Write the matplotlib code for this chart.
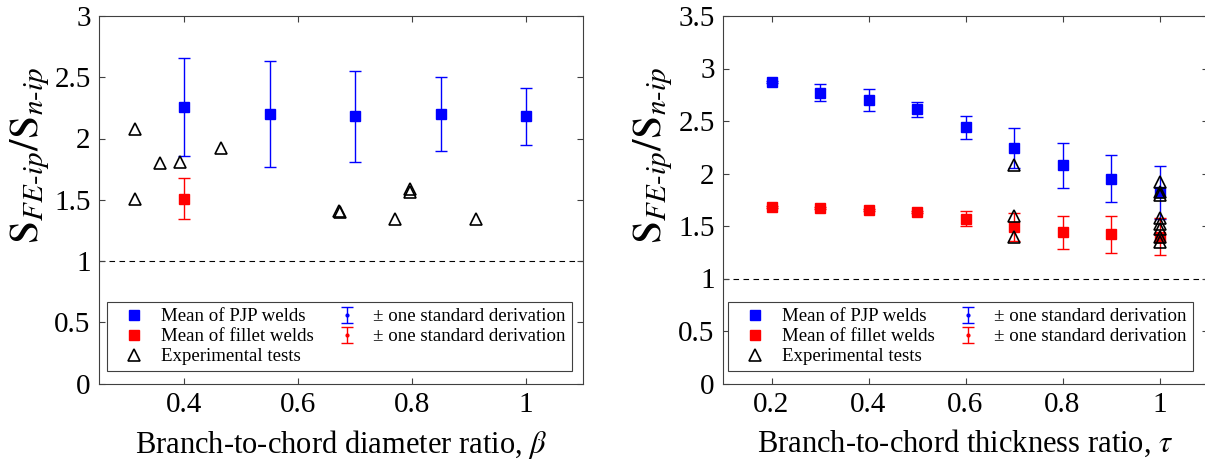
import numpy as np
import matplotlib
matplotlib.use('Agg')
import matplotlib.pyplot as plt
from matplotlib.ticker import FuncFormatter
from matplotlib.container import ErrorbarContainer
from matplotlib.legend_handler import HandlerErrorbar

plt.rcParams['font.family'] = ['Liberation Serif', 'DejaVu Serif']
plt.rcParams['mathtext.fontset'] = 'stix'

# left panel: beta
beta_mean = [0.4, 0.55, 0.7, 0.85, 1.0]
pjp_beta = [2.26, 2.20, 2.18, 2.20, 2.18]
pjp_beta_sd = [0.40, 0.43, 0.37, 0.30, 0.23]
fil_beta_x = [0.4]
fil_beta = [1.51]
fil_beta_sd = [0.166]
exp_beta_x = [0.313, 0.313, 0.358, 0.393, 0.465, 0.672, 0.674, 0.770, 0.797, 0.797, 0.912]
exp_beta_y = [2.08, 1.51, 1.80, 1.81, 1.92, 1.41, 1.40, 1.34, 1.59, 1.565, 1.34]

# right panel: tau
tau_mean = [0.2, 0.3, 0.4, 0.5, 0.6, 0.7, 0.8, 0.9, 1.0]
pjp_tau = [2.87, 2.77, 2.70, 2.61, 2.44, 2.24, 2.08, 1.95, 1.82]
pjp_tau_sd = [0.01, 0.08, 0.105, 0.073, 0.108, 0.19, 0.215, 0.222, 0.25]
fil_tau = [1.68, 1.67, 1.65, 1.63, 1.57, 1.49, 1.44, 1.42, 1.40]
fil_tau_sd = [0.01, 0.01, 0.01, 0.01, 0.073, 0.13, 0.16, 0.178, 0.18]
exp_tau_x = [0.7, 0.7, 0.7, 1.0, 1.0, 1.0, 1.0, 1.0, 1.0, 1.0, 1.0]
exp_tau_y = [2.08, 1.60, 1.40, 1.92, 1.82, 1.80, 1.58, 1.52, 1.47, 1.40, 1.35]

ylab = r'$\mathrm{S}_{FE\text{-}ip}/\mathrm{S}_{n\text{-}ip}$'
fmt = FuncFormatter(lambda v, p: '%g' % v)

fig = plt.figure(figsize=(12.05, 4.63), dpi=100)
ax1 = fig.add_axes([99/1205, 79.5/463, 484/1205, 367.5/463])
ax2 = fig.add_axes([723/1205, 79.5/463, 485/1205, 367.5/463])


def draw(ax, xm, pm, ps, xf, fm, fs, xe, ye):
    ax.axhline(1, color='k', ls=(0, (5, 4)), lw=0.8, zorder=1)
    eb = ax.errorbar(xm, pm, yerr=ps, fmt='.', color='blue', ms=4, lw=1,
                     capsize=4, capthick=1, zorder=2)
    er = ax.errorbar(xf, fm, yerr=fs, fmt='.', color='red', ms=4, lw=1,
                     capsize=4, capthick=1, zorder=2)
    pb, = ax.plot(xm, pm, 's', color='blue', ms=7, ls='none', zorder=3)
    pr, = ax.plot(xf, fm, 's', color='red', ms=7, ls='none', zorder=3)
    pe, = ax.plot(xe, ye, '^', mfc='none', mec='k', mew=1.2, ms=8, ls='none', zorder=4)
    return [pb, pr, pe, eb, er]


h1 = draw(ax1, beta_mean, pjp_beta, pjp_beta_sd, fil_beta_x, fil_beta, fil_beta_sd,
          exp_beta_x, exp_beta_y)
h2 = draw(ax2, tau_mean, pjp_tau, pjp_tau_sd, tau_mean, fil_tau, fil_tau_sd,
          exp_tau_x, exp_tau_y)

labels = ['Mean of PJP welds', 'Mean of fillet welds', 'Experimental tests',
          '\u00b1 one standard derivation', '\u00b1 one standard derivation']

ax1.set_xlim(0.25, 1.1)
ax1.set_ylim(0, 3)
ax1.set_xticks([0.4, 0.6, 0.8, 1.0])
ax1.set_yticks(np.arange(0, 3.01, 0.5))
ax1.set_xlabel(r'Branch-to-chord diameter ratio, $\beta$', fontsize=22, labelpad=7)

ax2.set_xlim(0.1, 1.1)
ax2.set_ylim(0, 3.5)
ax2.set_xticks([0.2, 0.4, 0.6, 0.8, 1.0])
ax2.set_yticks(np.arange(0, 3.51, 0.5))
ax2.set_xlabel(r'Branch-to-chord thickness ratio, $\tau$', fontsize=22, labelpad=7)

for ax, h, x0, lx in [(ax1, h1, 0.0165, -0.097), (ax2, h2, 0.0103, -0.099)]:
    ax.set_ylabel(ylab, fontsize=30)
    ax.yaxis.set_label_coords(lx, 0.62)
    ax.xaxis.set_major_formatter(fmt)
    ax.yaxis.set_major_formatter(fmt)
    ax.tick_params(direction='in', length=4, width=0.8, labelsize=21, color='#404040',
                   top=True, right=True, pad=6)
    for s in ax.spines.values():
        s.set_color('#404040')
        s.set_linewidth(0.8)
    leg = ax.legend(h, labels, ncol=2, loc='lower left', fontsize=13.6,
                    bbox_to_anchor=(x0, 0.034), borderaxespad=0,
                    fancybox=False, framealpha=1, edgecolor='#404040',
                    handlelength=2.25, handletextpad=0.3, columnspacing=0.62,
                    labelspacing=0.15, borderpad=0.3,
                    handler_map={ErrorbarContainer: HandlerErrorbar(yerr_size=0.42)})
    leg.get_frame().set_linewidth(0.8)

fig.savefig('out.png', dpi=100)
